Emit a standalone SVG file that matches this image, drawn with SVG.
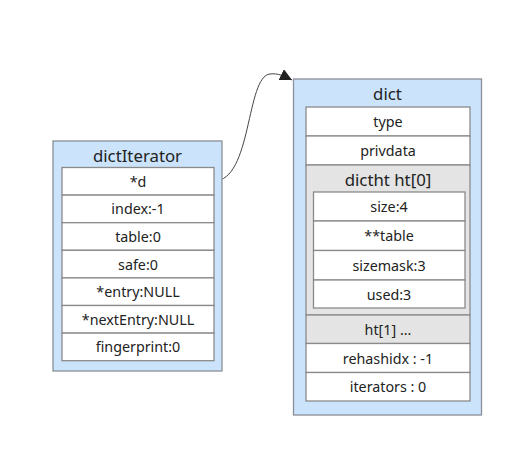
<svg xmlns="http://www.w3.org/2000/svg" width="516" height="452" viewBox="0 0 516 452">
<style>
.outer{fill:#cce4fb;stroke:#8a9099;stroke-width:1.3}
.row{fill:#ffffff;stroke:#8a8a8a;stroke-width:1.3}
.gray{fill:#e4e4e4;stroke:#8a8a8a;stroke-width:1.3}
.t{font-family:"Noto Sans","DejaVu Sans",sans-serif;font-size:14.3px;fill:#222;text-anchor:middle;dominant-baseline:central}
.h{font-family:"Noto Sans","DejaVu Sans",sans-serif;font-size:16.8px;fill:#222;text-anchor:middle;dominant-baseline:central}
</style>
<defs>
<marker id="arr" viewBox="0 0 10 10" refX="10" refY="5" markerWidth="12" markerHeight="12" markerUnits="userSpaceOnUse" orient="auto">
<path d="M0,0 L10,5 L0,10 z" fill="#222"/>
</marker>
</defs>
<rect width="516" height="452" fill="#ffffff"/>
<g id="connectors">
<path d="M214,181 C252,181 246,76 270,74 C278,73 284,76 292,80" fill="none" stroke="#444" stroke-width="1" marker-end="url(#arr)"/>
</g>
<g id="dictIterator">
<rect class="outer" x="53" y="141" width="169" height="230"/>
<text class="h" x="137.5" y="155">dictIterator</text>
<rect class="row" x="62" y="167.5" width="152" height="27.6"/>
<text class="t" x="138" y="181.3">*d</text>
<rect class="row" x="62" y="195.1" width="152" height="27.6"/>
<text class="t" x="138" y="208.9">index:-1</text>
<rect class="row" x="62" y="222.7" width="152" height="27.6"/>
<text class="t" x="138" y="236.5">table:0</text>
<rect class="row" x="62" y="250.3" width="152" height="27.6"/>
<text class="t" x="138" y="264.1">safe:0</text>
<rect class="row" x="62" y="277.9" width="152" height="27.6"/>
<text class="t" x="138" y="291.7">*entry:NULL</text>
<rect class="row" x="62" y="305.5" width="152" height="27.6"/>
<text class="t" x="138" y="319.3">*nextEntry:NULL</text>
<rect class="row" x="62" y="333.1" width="152" height="27.6"/>
<text class="t" x="138" y="346.9">fingerprint:0</text>
</g>
<g id="dict">
<rect class="outer" x="293.5" y="79" width="188" height="336"/>
<text class="h" x="387.5" y="93">dict</text>
<rect class="row" x="306" y="107" width="164" height="29"/>
<text class="t" x="388" y="121.5">type</text>
<rect class="row" x="306" y="136" width="164" height="29"/>
<text class="t" x="388" y="150.5">privdata</text>
<g id="dictht">
<rect class="gray" x="306" y="165" width="164" height="150"/>
<text class="h" x="388" y="179">dictht ht[0]</text>
<rect class="row" x="313.5" y="192" width="151.5" height="29"/>
<text class="t" x="389" y="206.5">size:4</text>
<rect class="row" x="313.5" y="221" width="151.5" height="29.5"/>
<text class="t" x="389" y="235.8">**table</text>
<rect class="row" x="313.5" y="250.5" width="151.5" height="29.5"/>
<text class="t" x="389" y="265.3">sizemask:3</text>
<rect class="row" x="313.5" y="280" width="151.5" height="28"/>
<text class="t" x="389" y="294">used:3</text>
</g>
<rect class="gray" x="306" y="315" width="164" height="28.5"/>
<text class="t" x="388" y="329.3">ht[1] ...</text>
<rect class="row" x="306" y="343.5" width="164" height="29"/>
<text class="t" x="388" y="358">rehashidx : -1</text>
<rect class="row" x="306" y="372.5" width="164" height="28.5"/>
<text class="t" x="388" y="386.8">iterators : 0</text>
</g>
</svg>
